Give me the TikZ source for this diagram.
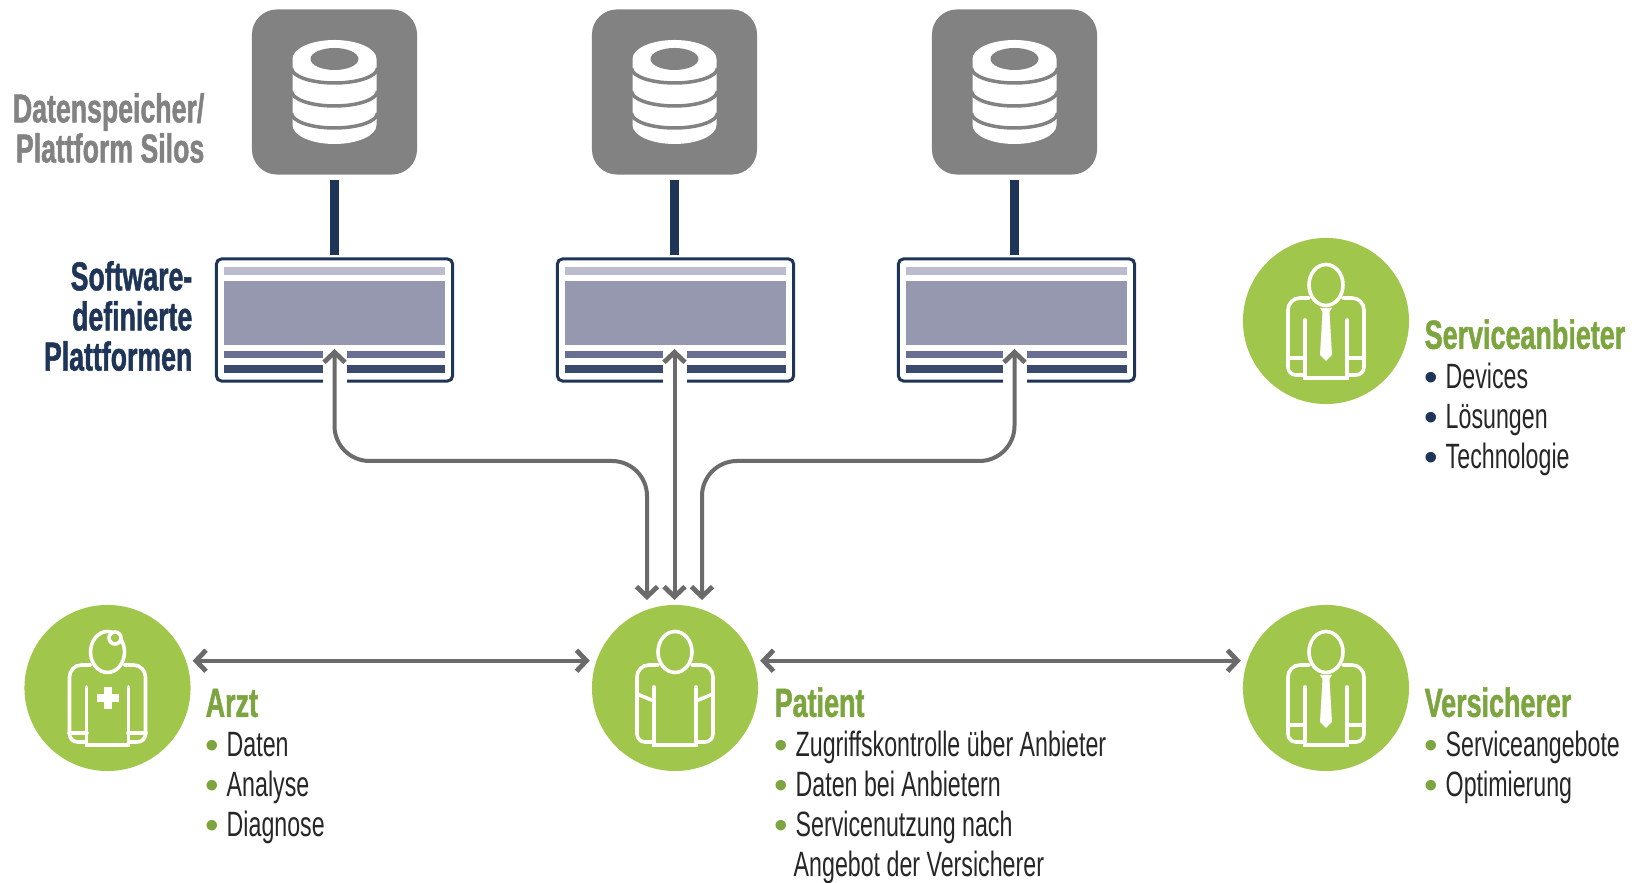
\documentclass[tikz,border=0pt]{standalone}
\usepackage{fontspec}
\setmainfont[FakeStretch=0.66, BoldFeatures={FakeBold=1.2}]{Liberation Sans}
\newfontfamily\dotfont{Liberation Sans}
\usetikzlibrary{arrows.meta}
\definecolor{leaf}{HTML}{A0C64B}
\definecolor{leafdark}{HTML}{7DA53F}
\definecolor{slate}{HTML}{828282}
\definecolor{navy}{HTML}{1F3557}
\definecolor{barlight}{HTML}{BDBCCE}
\definecolor{barmid}{HTML}{9598AE}
\definecolor{barlow}{HTML}{686F90}
\definecolor{bardark}{HTML}{3A4A6B}
\definecolor{flowgray}{HTML}{6B6B6B}
\newcommand{\bul}[1]{\makebox[.21cm][l]{\raisebox{-.5pt}[0pt][0pt]{\dotfont\fontsize{11}{11}\selectfont\textcolor{#1}{•}}}}
\newcommand{\rolehead}[1]{{\bfseries\fontsize{11.6}{11.38}\selectfont\rule{0pt}{9pt}\textcolor{leafdark}{#1}}}

\begin{document}
\begin{tikzpicture}[
            x=0.01cm, y=-0.01cm,
            silo/.style={fill=slate, draw=none, rounded corners=.25cm, minimum size=1.65cm, inner sep=0},
            platform/.style={fill=white, draw=navy, line width=.03cm, rounded corners=.05cm, minimum width=2.36cm, minimum height=1.22cm, inner sep=0},
            role/.style={fill=leaf, draw=none, circle, minimum size=1.66cm, inner sep=0},
            link/.style={draw=navy, line width=.085cm, shorten >=.04cm, shorten <=.05cm},
            flow/.style={draw=flowgray, line width=.04cm, rounded corners=.35cm, {Straight Barb[length=.1cm,width=.21cm,line width=.048cm]}-{Straight Barb[length=.1cm,width=.21cm,line width=.048cm]}},
            side/.style={flow, shorten >=.06cm, shorten <=.06cm},
            icon/.style={draw=white, line width=.036cm, rounded corners=.07cm, line cap=round},
            caption/.style={draw=none, font=\bfseries\fontsize{11.5}{11.4}\selectfont, align=right, anchor=east, inner sep=0},
            facts/.style={draw=none, font=\fontsize{10}{11.38}\selectfont, align=left, anchor=north west, inner sep=0, text=black!85},
            person/.pic={
                \draw[icon, fill=none] (0,-36) ellipse [x radius=17, y radius=20.5];
                \draw[icon] (-17,-23) [rounded corners=.12cm] -- (-38,-23) -- (-38,20) [rounded corners=.08cm] -- (-38,54) -- (-21,54);
                \draw[icon] (17,-23) [rounded corners=.12cm] -- (38,-23) -- (38,20) [rounded corners=.08cm] -- (38,54) -- (21,54);
                \draw[icon, rounded corners=0] (-21,-1) -- (-21,57) -- (21,57) -- (21,-1);
            },
            silostack/.pic={
                \fill[white] (-42,-33) -- (-42,33) arc[start angle=180, end angle=0, x radius=42, y radius=19] -- (42,-33) arc[start angle=0, end angle=-180, x radius=42, y radius=19] -- cycle;
                \draw[slate, line width=.035cm] (-43,-24) arc[start angle=180, end angle=0, x radius=43, y radius=15];
                \draw[slate, line width=.035cm] (-43,-1) arc[start angle=180, end angle=0, x radius=43, y radius=15];
                \draw[slate, line width=.035cm] (-43,21) arc[start angle=180, end angle=0, x radius=43, y radius=15];
                \fill[slate] (0,-33) ellipse [x radius=24, y radius=11];
            },
        ]
            \useasboundingbox (0,0) rectangle (1641,883);
            %% silos and platforms
            \foreach \i/\sx/\px in {1/334.5/334.5, 2/674.5/675.5, 3/1014.5/1016.5} {
                \node[silo] at (\sx, 92) (silo\i) {};
                \pic at (\sx, 92) {silostack};
                \node[platform] at (\px, 320) (platform\i) {};
                \coordinate (foot\i) at (\sx, 259);
                \draw[link] (silo\i) -- (foot\i);
                \fill[barlight] (\px-110.5, 267) rectangle (\px+110.5, 275);
                \fill[barmid] (\px-110.5, 281) rectangle (\px+110.5, 345);
                \fill[barlow] (\px-110.5, 351) rectangle (\px+110.5, 358);
                \fill[bardark] (\px-110.5, 365) rectangle (\px+110.5, 373);
                \fill[white] (\sx-12, 346) rectangle (\sx+12, 385);
                \coordinate (port\i) at (\sx, 349);
            }
            %% roles
            \node[role] at (107.5, 688) (arzt) {};
            \node[role] at (675, 688) (patient) {};
            \node[role] at (1326, 688) (versicherer) {};
            \node[role] at (1326, 321) (anbieter) {};
            \pic at (107.5, 688) {person};
            \pic at (675, 688) {person};
            \pic at (1326, 688) {person};
            \pic at (1326, 321) {person};
            %% doctor details
            \filldraw[draw=white, fill=leaf, line width=.036cm] (115, 638) circle [radius=6];
            \fill[white] (103.5, 687) rectangle (111.5, 709);
            \fill[white] (96.5, 694) rectangle (118.5, 702);
            \draw[icon, rounded corners=0] (69,733) -- (87,733);
            \draw[icon, rounded corners=0] (128,733) -- (146,733);
            %% patient details
            \draw[icon, rounded corners=0] (637,694) -- (654,701);
            \draw[icon, rounded corners=0] (713,694) -- (696,701);
            %% ties and cuffs
            \foreach \tx/\ty in {1326/688, 1326/321} {
                \draw[icon, rounded corners=0] (\tx-38, \ty+37) -- (\tx-21, \ty+37);
                \draw[icon, rounded corners=0] (\tx+38, \ty+37) -- (\tx+21, \ty+37);
                \fill[white] (\tx-6, \ty-13) -- (\tx+6, \ty-13) -- (\tx+3.5, \ty-9) -- (\tx+6, \ty+34) -- (\tx, \ty+40) -- (\tx-6, \ty+34) -- (\tx-3.5, \ty-9) -- cycle;
            }
            %% connection
            \coordinate (bus) at (0, 461);
            \coordinate (drop1) at (647, 600);
            \coordinate (drop2) at (674.5, 600);
            \coordinate (drop3) at (702, 600);
            \draw[flow] (port1) -- (port1 |- bus) -- (drop1 |- bus) -- (drop1);
            \draw[flow] (port2) -- (drop2);
            \draw[flow] (port3) -- (port3 |- bus) -- (drop3 |- bus) -- (drop3);
            \draw[side] (arzt.19) -- (patient.161);
            \draw[side] (patient.19) -- (versicherer.161);
            %% captions
            \node[caption, text=slate] at (205, 128) (silotext) {Datenspeicher/\\Plattform Silos};
            \node[caption, text=navy] at (193, 316) (platformtext) {Software-\\definierte\\Plattformen};
            \node[facts] at (205, 684.5) (arzttext) {\rolehead{Arzt}\\
                \bul{leafdark}Daten\\ \bul{leafdark}Analyse\\ \bul{leafdark}Diagnose};
            \node[facts] at (774, 684.5) (patienttext) {\rolehead{Patient}\\
                \bul{leafdark}Zugriffskontrolle über Anbieter\\ \bul{leafdark}Daten bei Anbietern\\ \bul{leafdark}Servicenutzung nach\\ \hspace*{.19cm}Angebot der Versicherer};
            \node[facts] at (1424, 684.5) (versicherertext) {\rolehead{Versicherer}\\
                \bul{leafdark}Serviceangebote\\ \bul{leafdark}Optimierung};
            \node[facts] at (1424, 316.5) (anbietertext) {\rolehead{Serviceanbieter}\\
                \bul{navy}Devices\\ \bul{navy}Lösungen\\ \bul{navy}Technologie};
        \end{tikzpicture}
\end{document}
